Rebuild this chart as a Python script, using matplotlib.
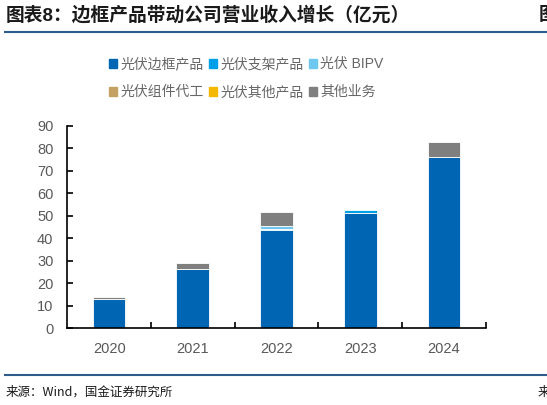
import matplotlib
matplotlib.use("Agg")
import matplotlib.pyplot as plt
from matplotlib.lines import Line2D
import numpy as np

plt.rcParams['font.family'] = ['Liberation Sans', 'Noto Sans CJK SC', 'DejaVu Sans']

# data (亿元)
years = ['2020', '2021', '2022', '2023', '2024']
frame = [13.0, 26.1, 43.6, 51.3, 75.9]       # 光伏边框产品
bracket = [0, 0, 0.6, 1.1, 0]               # 光伏支架产品
bipv = [0, 0, 1.3, 0, 0]                    # 光伏 BIPV
oem = [0, 0, 0, 0, 0]                       # 光伏组件代工
other_pv = [0, 0, 0, 0, 0]                  # 光伏其他产品
other_biz = [0.9, 3.0, 6.0, 0, 6.8]         # 其他业务

names = ['光伏边框产品', '光伏支架产品', '光伏 BIPV', '光伏组件代工', '光伏其他产品', '其他业务']
colors = ['#0066B3', '#00A0E9', '#6DC8F0', '#C4A062', '#F5B800', '#7F7F7F']
series = [frame, bracket, bipv, oem, other_pv, other_biz]

fig = plt.figure(figsize=(5.47, 4.05), dpi=100)
ax = fig.add_axes([0.123, 0.19, 0.765, 0.4996])

x = np.arange(len(years))
bottom = np.zeros(len(years))
handles = []
for vals, name, c in zip(series, names, colors):
    vals = np.array(vals, dtype=float)
    mask = vals > 0
    ax.bar(x[mask], vals[mask], width=0.39, bottom=bottom[mask], color=c,
           edgecolor='white', linewidth=0.6)
    bottom += vals
    handles.append(plt.Rectangle((0, 0), 1, 1, color=c, label=name))

ax.set_xlim(-0.5, 4.5)
ax.set_ylim(0, 90)
ax.set_yticks(range(0, 91, 10))
ax.set_xticks(np.arange(0.5, 4.6, 1.0))
ax.set_xticklabels([])
ax.set_xticks(x, minor=True)
ax.set_xticklabels(years, minor=True)
ax.tick_params(axis='x', which='minor', length=0, pad=10, labelsize=10.5, labelcolor='#595959')
ax.tick_params(axis='x', which='major', direction='in', length=4, width=1.2)
ax.tick_params(axis='y', direction='in', length=4, width=1.2, pad=10,
               labelsize=10.5, labelcolor='#595959')
for s in ['top', 'right']:
    ax.spines[s].set_visible(False)
for s in ['left', 'bottom']:
    ax.spines[s].set_linewidth(1.2)
    ax.spines[s].set_color('black')

order = [0, 3, 1, 4, 2, 5]
fig.legend([handles[i] for i in order], [names[i] for i in order], ncol=3,
           loc='center', bbox_to_anchor=(0.45, 0.807), frameon=False, fontsize=10,
           labelcolor='#666666', handlelength=0.6, handleheight=0.6,
           handletextpad=0.25, columnspacing=0.35, labelspacing=1.0)

# header / footer
fig.text(0.01, 0.962, '图表8：边框产品带动公司营业收入增长（亿元）', fontsize=13.5,
         fontweight='bold', va='center', ha='left', color='#1a1a1a')
fig.text(0.984, 0.962, '图', fontsize=13.5, fontweight='bold', va='center', ha='left', color='#1a1a1a')
fig.add_artist(Line2D([0.009, 1.0], [0.922, 0.922], transform=fig.transFigure,
                      color='#2E5C8A', linewidth=1.5))
fig.add_artist(Line2D([0.009, 1.0], [0.073, 0.073], transform=fig.transFigure,
                      color='#2E5C8A', linewidth=1.5))
fig.text(0.01, 0.032, '来源：Wind，国金证券研究所', fontsize=9, va='center', ha='left',
         family=['Noto Sans CJK SC', 'DejaVu Sans'], color='#1a1a1a')
fig.text(0.982, 0.032, '来', fontsize=9, va='center', ha='left',
         family=['Noto Sans CJK SC', 'DejaVu Sans'], color='#1a1a1a')

fig.savefig('out.png', dpi=100)
